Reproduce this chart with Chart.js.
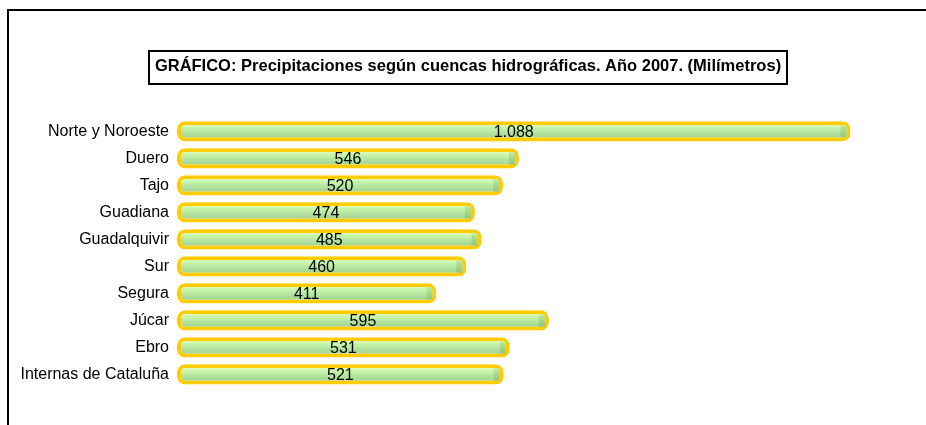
<!DOCTYPE html>
<html>
<head>
<meta charset="utf-8">
<script src="https://cdn.jsdelivr.net/npm/chart.js@4.4.1/dist/chart.umd.min.js"></script>
<style>
  html, body { margin: 0; padding: 0; background: #ffffff; }
  #wrap { position: relative; width: 926px; height: 425px; overflow: hidden; }
  #frame { position: absolute; left: 7px; top: 9px; width: 1000px; height: 1000px;
           border-left: 2px solid #000; border-top: 2px solid #000; }
  #c { position: absolute; left: 0; top: 0; }
</style>
</head>
<body>
<div id="wrap">
  <div id="frame"></div>
  <canvas id="c" width="926" height="425"></canvas>
</div>
<script>
const titleText = 'GRÁFICO: Precipitaciones según cuencas hidrográficas. Año 2007. (Milímetros)';
const categories = ['Norte y Noroeste', 'Duero', 'Tajo', 'Guadiana', 'Guadalquivir', 'Sur', 'Segura', 'Júcar', 'Ebro', 'Internas de Cataluña'];
const values = [1088, 546, 520, 474, 485, 460, 411, 595, 531, 521];

const FONT = 'Arial, "Liberation Sans", sans-serif';
const BAR_PCT = 0.75;
const BW = 4;

function fmt(v) {
  return String(v).replace(/\B(?=(\d{3})+(?!\d))/g, '.');
}

function barGradient(ctx, yc, h, stops) {
  const g = ctx.createLinearGradient(0, yc - h / 2, 0, yc + h / 2);
  stops.forEach(s => g.addColorStop(s[0], s[1]));
  return g;
}

const bodyStops = [[0, '#FFCC00'], [0.19, '#FFCC00'], [0.2, '#d4fdb4'], [0.38, '#c2f1a8'], [0.6, '#b0e29e'], [0.8, '#a2d592'], [0.81, '#FFCC00'], [1, '#FFCC00']];
const capStops = [[0, '#c4ec9c'], [0.4, '#a9d98a'], [1, '#94c67c']];

const boxPlugin = {
  id: 'boxPlugin',
  afterDatasetsDraw(chart) {
    const ctx = chart.ctx;
    const meta = chart.getDatasetMeta(0);
    ctx.save();
    meta.data.forEach((bar, i) => {
      const p = bar.getProps(['x', 'y', 'base', 'height'], true);
      const inner = p.height - 2 * BW;
      // darker cylinder end cap
      ctx.fillStyle = barGradient(ctx, p.y, inner, capStops);
      ctx.fillRect(p.x - BW - 6, p.y - inner / 2, 6, inner);
      // value label
      ctx.fillStyle = '#000';
      ctx.font = '16px ' + FONT;
      ctx.textAlign = 'center';
      ctx.textBaseline = 'middle';
      ctx.fillText(fmt(values[i]), (p.x + p.base) / 2, p.y + 1);
    });
    ctx.restore();
  },
  afterDraw(chart) {
    const tb = chart.titleBlock;
    if (!tb) return;
    const ctx = chart.ctx;
    const opts = chart.options.plugins.title;
    ctx.save();
    ctx.font = 'bold 16.5px ' + FONT;
    const w = ctx.measureText(titleText).width;
    const cx = tb.left + tb.width / 2;
    const cy = tb.top + opts.padding.top + 10;
    ctx.strokeStyle = '#000';
    ctx.lineWidth = 2;
    ctx.strokeRect(Math.round(cx - w / 2 - 6), Math.round(cy - 16.5), Math.round(w + 12), 33);
    ctx.restore();
  }
};

new Chart(document.getElementById('c'), {
  type: 'bar',
  data: {
    labels: categories,
    datasets: [{
      data: values,
      base: -13,
      backgroundColor(context) {
        const chart = context.chart;
        const area = chart.chartArea;
        if (!area) return '#b8e8a0';
        const y = chart.scales.y.getPixelForValue(context.dataIndex);
        const h = area.height / categories.length * BAR_PCT;
        return barGradient(chart.ctx, y, h, bodyStops);
      },
      borderColor: '#FFCC00',
      borderWidth: BW,
      borderRadius: 8,
      borderSkipped: false,
      barPercentage: BAR_PCT,
      categoryPercentage: 1
    }]
  },
  options: {
    indexAxis: 'y',
    responsive: false,
    animation: false,
    layout: { padding: { left: 17, right: 7, top: 0, bottom: 37 } },
    scales: {
      x: { display: false, min: -13, max: 1200 },
      y: {
        grid: { display: false, drawTicks: false },
        border: { display: false },
        ticks: { color: '#000', font: { family: FONT, size: 16 }, padding: 8 },
        afterFit(scale) { scale.width = 160; }
      }
    },
    plugins: {
      legend: { display: false },
      tooltip: { enabled: false },
      title: {
        display: true,
        text: titleText,
        color: '#000',
        font: { family: FONT, size: 16.5, weight: 'bold', lineHeight: 1.2 },
        padding: { top: 57, bottom: 41 }
      }
    }
  },
  plugins: [boxPlugin]
});
</script>
</body>
</html>
